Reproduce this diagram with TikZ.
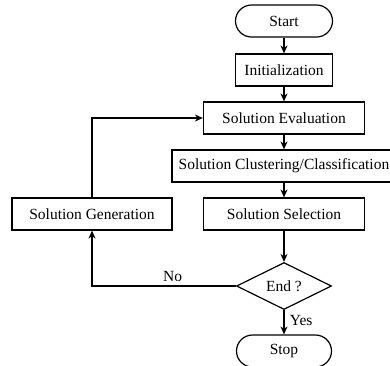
\documentclass[tikz,border=0pt]{standalone}
\usepackage{fontspec}
\setmainfont{Liberation Serif}
\usetikzlibrary{shapes.geometric,arrows.meta}

\begin{document}
\begin{tikzpicture}[
    x=1pt, y=-1pt,
    box/.style={draw, line width=1.2pt, minimum width=#1, minimum height=32pt,
                inner sep=2pt, font=\fontsize{15.5}{18}\selectfont},
    term/.style={box=#1, rounded corners=16pt},
    cond/.style={draw, line width=1.2pt, diamond, aspect=2, inner sep=0pt,
                 minimum width=95pt, minimum height=47pt,
                 font=\fontsize{15.5}{18}\selectfont},
    arr/.style={-{Stealth[length=8pt,width=7pt]}, line width=1.2pt},
    lbl/.style={font=\fontsize{15.5}{18}\selectfont},
]
    \useasboundingbox (0,0) rectangle (390,365);

    \node[term=97pt]  (start) at (284, 21)  {Start};
    \node[box=97pt]   (init)  at (284, 70)  {Initialization};
    \node[box=161pt]  (eval)  at (284, 118) {Solution Evaluation};
    \node[box=224pt]  (clust) at (284, 166) {Solution Clustering/Classification};
    \node[box=161pt]  (sel)   at (284, 214) {Solution Selection};
    \node[box=160pt]  (gen)   at (92, 214)  {Solution Generation};
    \node[cond]       (done)  at (284, 286) {End ?};
    \node[term=95pt]  (stop)  at (284, 351) {Stop};

    \draw[arr] (start) -- (init);
    \draw[arr] (init)  -- (eval);
    \draw[arr] (eval)  -- (clust);
    \draw[arr] (clust) -- (sel);
    \draw[arr] (sel)   -- (done);
    \draw[arr] (done)  -- node[lbl, right, xshift=2pt, yshift=2pt] {Yes} (stop);
    \draw[arr] (done.west) -| node[lbl, above, pos=0.22] {No} (gen.south);
    \draw[arr] (gen.north) |- (eval.west);
\end{tikzpicture}
\end{document}
